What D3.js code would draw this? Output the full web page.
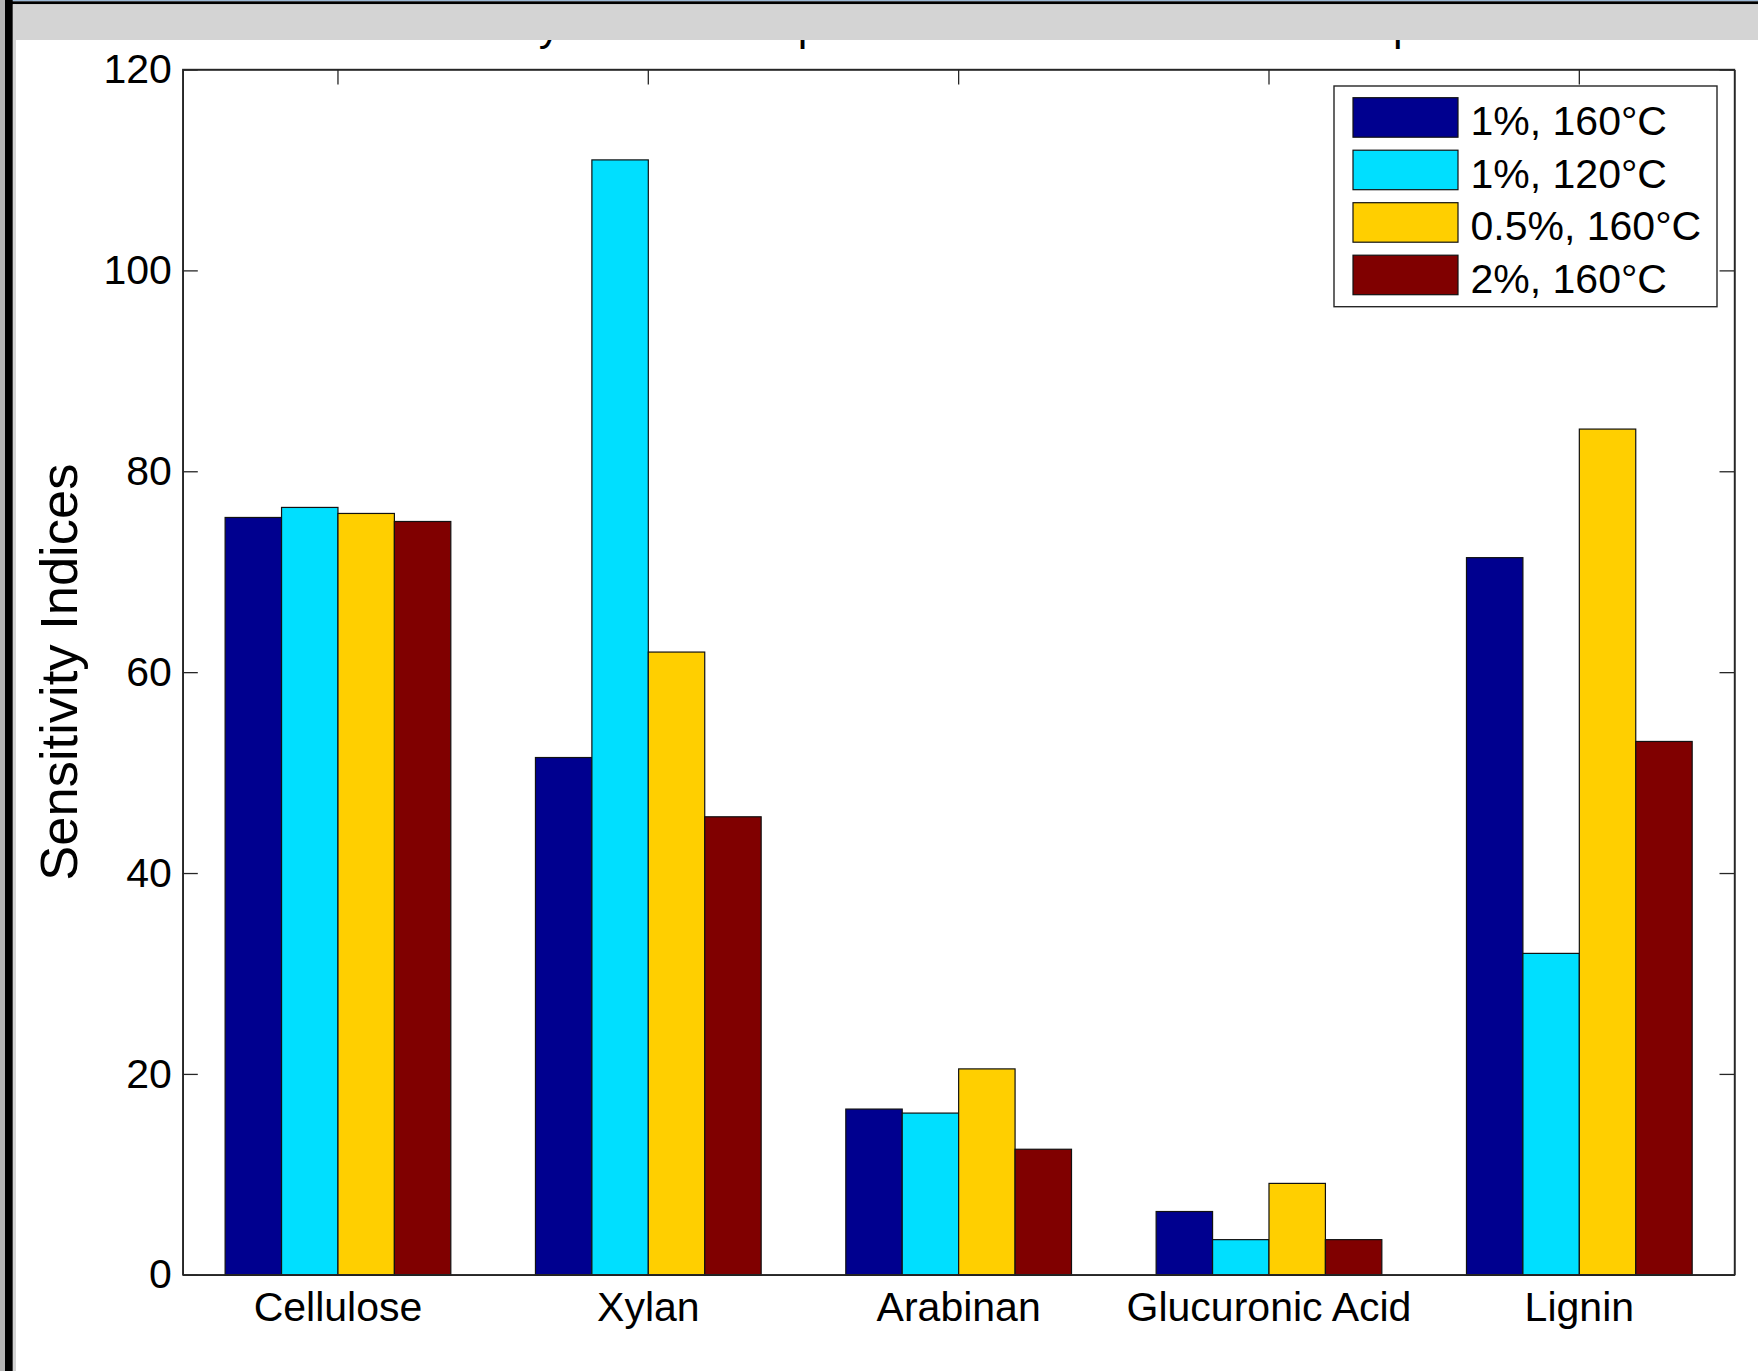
<!DOCTYPE html>
<html>
<head>
<meta charset="utf-8">
<title>Sensitivity Indices</title>
<script src="https://cdn.jsdelivr.net/npm/d3@7"></script>
<style>
  html, body { margin: 0; padding: 0; background: #ffffff; overflow: hidden; }
  svg { display: block; }
  text { font-family: "Liberation Sans", Arial, Helvetica, sans-serif; fill: #000; }
</style>
</head>
<body>
<div id="chart"></div>
<script>
// Components on the x axis
const categories = ["Cellulose", "Xylan", "Arabinan", "Glucuronic Acid", "Lignin"];

// Pretreatment conditions (one bar series each)
const seriesNames = ["1%, 160\u00B0C", "1%, 120\u00B0C", "0.5%, 160\u00B0C", "2%, 160\u00B0C"];
const seriesColors = ["#00008F", "#00DFFF", "#FFCF00", "#800000"];

// Sensitivity index of each component, one array per condition
const acid1_t160   = [75.4, 51.5, 16.5, 6.3, 71.4];
const acid1_t120   = [76.4, 111.0, 16.1, 3.5, 32.0];
const acid05_t160  = [75.8, 62.0, 20.5, 9.1, 84.2];
const acid2_t160   = [75.0, 45.6, 12.5, 3.5, 53.1];
const seriesValues = [acid1_t160, acid1_t120, acid05_t160, acid2_t160];

// Axis ticks and labels
const yTicks = [0, 20, 40, 60, 80, 100, 120];
const yLabel = "Sensitivity Indices";
const chartTitle = "Sensitivity of the Compositions to the Acid and Temperature";

const W = 1758, H = 1371;
const plot = { left: 182.8, right: 1734.5, top: 69.5, bottom: 1274.8 };
const axisColor = "#262626";
const tickLen = 15;

const svg = d3.select("#chart").append("svg")
  .attr("width", W).attr("height", H)
  .attr("viewBox", `0 0 ${W} ${H}`);

svg.append("rect").attr("width", W).attr("height", H).attr("fill", "#ffffff");

// Scales
const x = d3.scaleBand().domain(categories).range([plot.left, plot.right]).padding(0);
const groupFrac = seriesNames.length / (seriesNames.length + 1.5);
const groupWidth = x.bandwidth() * groupFrac;
const xs = d3.scaleBand().domain(d3.range(seriesNames.length)).range([0, groupWidth]).padding(0);
const y = d3.scaleLinear().domain([0, 120]).range([plot.bottom, plot.top]);

// Title (sits under the window toolbar strip, only its descenders show)
svg.append("text")
  .attr("x", 354).attr("y", 39.5)
  .attr("font-size", 43)
  .attr("textLength", 1208)
  .attr("lengthAdjust", "spacing")
  .text(chartTitle);

// Axes: ticks point inward on all four sides
function styleAxis(g) {
  g.selectAll(".domain").attr("stroke", axisColor).attr("stroke-width", 1.4);
  g.selectAll(".tick line").attr("stroke", axisColor).attr("stroke-width", 1.3);
  g.selectAll("text").attr("font-family", "'Liberation Sans', Arial, Helvetica, sans-serif").attr("fill", "#000");
}

const gLeft = svg.append("g").attr("transform", `translate(${plot.left},0)`)
  .call(d3.axisLeft(y).tickValues(yTicks).tickSize(-tickLen).tickSizeOuter(0).tickPadding(11).tickFormat(d3.format("d")));
gLeft.call(styleAxis).selectAll("text").attr("font-size", 41);
gLeft.attr("font-size", 41);

const gRight = svg.append("g").attr("transform", `translate(${plot.right},0)`)
  .call(d3.axisRight(y).tickValues(yTicks).tickSize(-tickLen).tickSizeOuter(0).tickFormat(""));
gRight.call(styleAxis);

const gTop = svg.append("g").attr("transform", `translate(0,${plot.top})`)
  .call(d3.axisTop(x).tickSize(-tickLen).tickSizeOuter(0).tickFormat(""));
gTop.call(styleAxis);

const gBottom = svg.append("g").attr("transform", `translate(0,${plot.bottom})`)
  .call(d3.axisBottom(x).tickSize(-tickLen).tickSizeOuter(0).tickPadding(17));
gBottom.call(styleAxis).selectAll("text").attr("font-size", 41);
gBottom.attr("font-size", 41);

// Grouped bars
const groups = svg.append("g").selectAll("g.series")
  .data(seriesValues)
  .join("g")
  .attr("class", "series")
  .attr("fill", (d, i) => seriesColors[i]);

groups.selectAll("rect")
  .data((vals, si) => vals.map((v, ci) => ({ v, ci, si })))
  .join("rect")
  .attr("x", d => x(categories[d.ci]) + (x.bandwidth() - groupWidth) / 2 + xs(d.si))
  .attr("width", xs.bandwidth())
  .attr("y", d => y(d.v))
  .attr("height", d => y(0) - y(d.v))
  .attr("stroke", "#111")
  .attr("stroke-width", 1.2);

// Plot frame redrawn on top of bar edges
svg.append("rect")
  .attr("x", plot.left).attr("y", plot.top)
  .attr("width", plot.right - plot.left).attr("height", plot.bottom - plot.top)
  .attr("fill", "none").attr("stroke", axisColor).attr("stroke-width", 1.4);

// Y axis label
svg.append("text")
  .attr("transform", `translate(77,${(plot.top + plot.bottom) / 2}) rotate(-90)`)
  .attr("text-anchor", "middle")
  .attr("font-size", 52.5)
  .text(yLabel);

// Legend
const legend = { x: 1334, y: 86, w: 383, h: 220.7, rowH: 52.5 };
svg.append("rect")
  .attr("x", legend.x).attr("y", legend.y)
  .attr("width", legend.w).attr("height", legend.h)
  .attr("fill", "#ffffff").attr("stroke", axisColor).attr("stroke-width", 1.4);

const rows = svg.append("g").selectAll("g.row")
  .data(seriesNames)
  .join("g")
  .attr("class", "row")
  .attr("transform", (d, i) => `translate(${legend.x},${legend.y + i * legend.rowH})`);

rows.append("rect")
  .attr("x", 19).attr("y", 11.7)
  .attr("width", 105).attr("height", 39.5)
  .attr("fill", (d, i) => seriesColors[i])
  .attr("stroke", "#111").attr("stroke-width", 1.2);

rows.append("text")
  .attr("x", 136.5).attr("y", 49)
  .attr("font-size", 41)
  .text(d => d);

// Window chrome: toolbar strip and left border
svg.append("rect").attr("x", 12).attr("y", 0).attr("width", W - 12).attr("height", 1.3).attr("fill", "#9db9d6");
svg.append("rect").attr("x", 12).attr("y", 1.3).attr("width", W - 12).attr("height", 3).attr("fill", "#000");
svg.append("rect").attr("x", 12.7).attr("y", 4.3).attr("width", W - 12.7).attr("height", 35.7).attr("fill", "#d4d4d4");
svg.append("rect").attr("x", 12.7).attr("y", 4.3).attr("width", 3.3).attr("height", H - 4.3).attr("fill", "#d4d4d4");
svg.append("rect").attr("x", 0).attr("y", 0).attr("width", 5).attr("height", H).attr("fill", "#b4b4b4");
svg.append("rect").attr("x", 5).attr("y", 0).attr("width", 7.7).attr("height", H).attr("fill", "#000");
</script>
</body>
</html>
